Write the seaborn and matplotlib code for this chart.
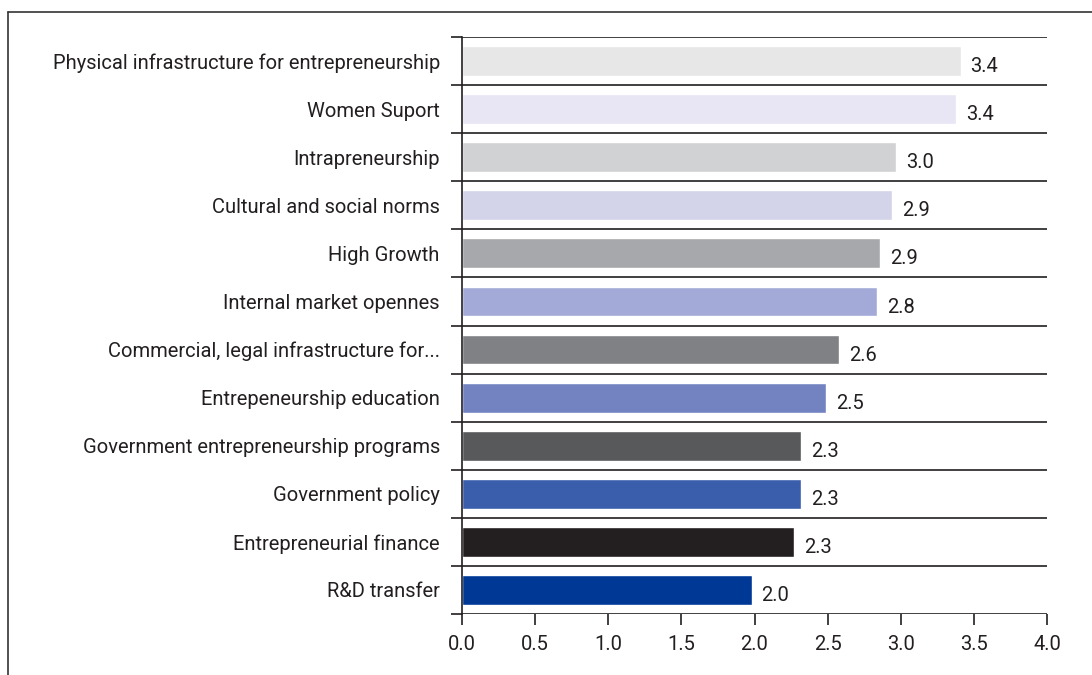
import matplotlib
matplotlib.use("Agg")
import matplotlib.pyplot as plt
from matplotlib.lines import Line2D
from matplotlib import font_manager
import seaborn as sns
import numpy as np

categories = [
    "Physical infrastructure for entrepreneurship",
    "Women Suport",
    "Intrapreneurship",
    "Cultural and social norms",
    "High Growth",
    "Internal market opennes",
    "Commercial, legal infrastructure for...",
    "Entrepeneurship education",
    "Government entrepreneurship programs",
    "Government policy",
    "Entrepreneurial finance",
    "R&D transfer",
]
scores = [3.41, 3.38, 2.97, 2.94, 2.86, 2.84, 2.58, 2.49, 2.32, 2.32, 2.27, 1.98]
bar_colors = [
    "#e6e7e6", "#e8e6f4", "#d1d2d4", "#d3d3ea", "#a7a8ab", "#a4aad8",
    "#808184", "#7383c1", "#58595b", "#3a5eab", "#231f20", "#003896",
]
x_ticks = [0.0, 0.5, 1.0, 1.5, 2.0, 2.5, 3.0, 3.5, 4.0]

sns.set_theme(style="white")
available = {f.name for f in font_manager.fontManager.ttflist}
family = "Liberation Sans Narrow" if "Liberation Sans Narrow" in available else "Roboto"
plt.rcParams["font.family"] = [family, "DejaVu Sans"]

ink = "#231f20"
fs = 14.5
fig = plt.figure(figsize=(10.92, 6.75), dpi=100)
ax = fig.add_axes([462 / 1092, 1 - 614 / 675, 585 / 1092, 577 / 675])

sns.barplot(x=scores, y=categories, hue=categories, palette=bar_colors,
            legend=False, orient="h", width=0.62, saturation=1, ax=ax)

ax.set_xlim(0, 4)
ax.set_ylim(len(categories) - 0.5, -0.5)

# boundaries between categories carry ticks and the horizontal rules
bounds = np.arange(-0.5, len(categories), 1.0)
ax.set_yticks(bounds)
ax.set_yticklabels([])
ax.set_yticks(np.arange(len(categories)), minor=True)
ax.set_yticklabels(categories, minor=True, fontsize=fs, color=ink)
ax.tick_params(axis="y", which="major", direction="out", length=8, width=1.2, color=ink, left=True)
ax.tick_params(axis="y", which="minor", length=0, pad=16)
ax.yaxis.grid(True, which="major", color=ink, linewidth=1.2)
ax.xaxis.grid(False)

ax.set_xticks(x_ticks)
ax.set_xticklabels([f"{t:.1f}" for t in x_ticks], fontsize=fs, color=ink)
ax.tick_params(axis="x", direction="out", length=8, width=1.2, color=ink, bottom=True, pad=7)

for side in ["top", "right", "bottom"]:
    ax.spines[side].set_visible(False)
ax.spines["left"].set_color(ink)
ax.spines["left"].set_linewidth(1.2)
ax.set_xlabel("")
ax.set_ylabel("")

for i, v in enumerate(scores):
    ax.annotate(f"{v:.1f}", xy=(v, i), xytext=(7, -4), textcoords="offset points",
                ha="left", va="center", fontsize=fs, color=ink)

# outer frame
fig.add_artist(Line2D([8 / 1092, 8 / 1092], [0, 1 - 12 / 675], transform=fig.transFigure,
                      color="#333333", linewidth=1.2))
fig.add_artist(Line2D([8 / 1092, 1], [1 - 12 / 675, 1 - 12 / 675], transform=fig.transFigure,
                      color="#333333", linewidth=1.2))

fig.savefig("out.png", dpi=100)
